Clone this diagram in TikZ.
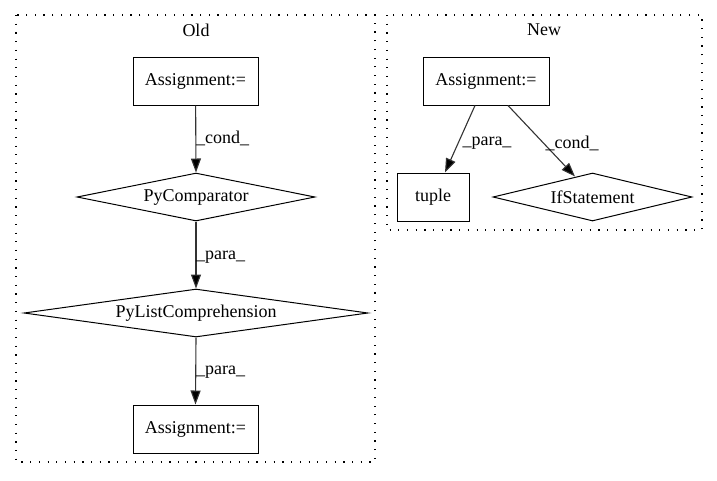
\documentclass[tikz,border=0pt]{standalone}
\usepackage{fontspec}
\setmainfont{Liberation Serif}
\usetikzlibrary{shapes.geometric,arrows.meta,calc}
\begin{document}
\begin{tikzpicture}[x=1pt,y=-1pt,
  every node/.style={font=\fontsize{18}{21}\selectfont},
  box/.style={draw,line width=1pt,rectangle,inner sep=0pt,minimum height=48pt},
  dia/.style={draw,line width=1pt,diamond,aspect=6,inner sep=0pt,minimum height=48pt},
  cluster/.style={draw,line width=1.2pt,dash pattern=on 1.2pt off 7.5pt},
  edge/.style={line width=1.1pt,draw=black!80,-{Triangle[length=14pt,width=10pt,fill=black]}},
  elabel/.style={inner sep=0pt}]
\useasboundingbox (0,0) rectangle (717,480);
% clusters
\draw[cluster] (16,15) rectangle (375,462);
\draw[cluster] (387,15) rectangle (702,230);
\node (lold) at (196,30) {Old};
\node (lnew) at (544,30) {New};
% Old nodes
\node[box,minimum width=125pt] (oa1) at (195.5,81) {Assignment:=};
\node[dia,minimum width=238pt] (opc) at (196,197) {PyComparator};
\node[dia,minimum width=344pt] (oplc) at (196,313) {PyListComprehension};
\node[box,minimum width=125pt] (oa2) at (195.5,429) {Assignment:=};
% New nodes
\node[box,minimum width=126pt] (na) at (486,81) {Assignment:=};
\node[box,minimum width=72pt] (nt) at (433,197) {tuple};
\node[dia,minimum width=199pt] (nif) at (592.5,197) {IfStatement};
% Old edges
\draw[edge] (oa1) -- (opc.north);
\draw[edge] (opc.south) -- (oplc.north);
\draw[edge] (oplc.south) -- (oa2.north);
\node[elabel,anchor=west] (l1) at (196,138) {\_cond\_};
\node[elabel,anchor=west] (l2) at (196,257) {\_para\_};
\node[elabel,anchor=west] (l3) at (196,372) {\_para\_};
% New edges
\coordinate (ifhit) at ($(nif.north)+(-17.5,4)$);
\draw[edge] ([xshift=-11pt]na.south) -- ([xshift=12pt]nt.north);
\draw[edge] ([xshift=22pt]na.south) -- (ifhit);
\node[elabel] (l4) at (487,143) {\_para\_};
\node[elabel] (l5) at (572,143) {\_cond\_};
\end{tikzpicture}
\end{document}
